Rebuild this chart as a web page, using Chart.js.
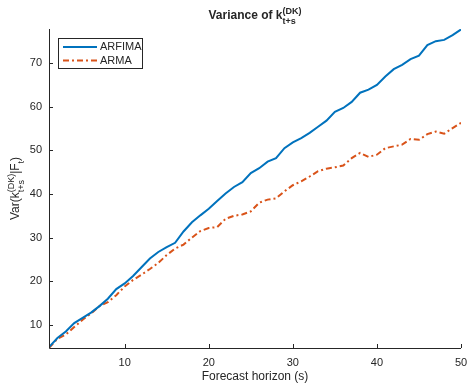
<!DOCTYPE html>
<html>
<head>
<meta charset="utf-8">
<script src="https://cdn.jsdelivr.net/npm/chart.js@4/dist/chart.umd.min.js"></script>
<style>
  html, body { margin: 0; padding: 0; background: #fff; }
  canvas { display: block; }
</style>
</head>
<body>
<canvas id="c" width="468" height="383"></canvas>
<script>
// horizon s = 1..50
const horizon = [];
for (let s = 1; s <= 50; s++) horizon.push(s);

const arfima = [4.9, 7.0, 8.5, 10.4, 11.6, 12.8, 14.3, 16.0, 18.2, 19.5,
                21.2, 23.2, 25.2, 26.7, 27.8, 28.8, 31.4, 33.5, 35.1, 36.6,
                38.4, 40.1, 41.6, 42.7, 44.8, 45.9, 47.4, 48.2, 50.5, 51.8,
                52.8, 54.0, 55.4, 56.8, 58.8, 59.7, 61.1, 63.2, 63.9, 65.0,
                66.9, 68.6, 69.6, 70.9, 71.7, 74.1, 75.0, 75.3, 76.4, 77.7];

const arma = [4.7, 6.8, 7.8, 9.5, 11.2, 12.6, 14.3, 15.2, 16.8, 18.8,
              20.3, 21.5, 22.8, 24.2, 26.0, 27.5, 28.4, 30.0, 31.5, 32.2,
              32.4, 34.3, 35.0, 35.3, 36.0, 38.0, 38.7, 39.0, 40.6, 42.0,
              42.9, 44.0, 45.2, 45.8, 46.1, 46.5, 48.2, 49.4, 48.5, 49.0,
              50.5, 50.9, 51.3, 52.6, 52.4, 53.7, 54.3, 53.8, 55.1, 56.3];

const seriesNames = ['ARFIMA', 'ARMA'];
const xTicks = [10, 20, 30, 40, 50];
const yTicks = [10, 20, 30, 40, 50, 60, 70];

const FONT = '"Liberation Sans", Arial, Helvetica, sans-serif';
const INK = '#262626';

function pts(vals) {
    return vals.map((v, i) => ({ x: horizon[i], y: v }));
}

// draws text pieces with super/subscripts, centred at (cx, cy)
function richText(ctx, parts, cx, cy, size, bold, angle) {
    const small = Math.round(size * 0.78);
    const f = (sz) => (bold ? 'bold ' : '') + sz + 'px ' + FONT;
    let total = 0;
    parts.forEach(p => {
        if (p.sup !== undefined || p.sub !== undefined) {
            ctx.font = f(small);
            p.w = Math.max(ctx.measureText(p.sup || '').width, ctx.measureText(p.sub || '').width);
        } else {
            ctx.font = f(size);
            p.w = ctx.measureText(p.t).width;
        }
        total += p.w;
    });
    ctx.save();
    ctx.translate(cx, cy);
    ctx.rotate(angle || 0);
    ctx.fillStyle = INK;
    ctx.textBaseline = 'middle';
    ctx.textAlign = 'left';
    let x = -total / 2;
    parts.forEach(p => {
        if (p.sup !== undefined || p.sub !== undefined) {
            ctx.font = f(small);
            if (p.sup) ctx.fillText(p.sup, x, -size * 0.38);
            if (p.sub) ctx.fillText(p.sub, x, size * 0.5);
        } else {
            ctx.font = f(size);
            ctx.fillText(p.t, x, 0);
        }
        x += p.w;
    });
    ctx.restore();
}

const decor = {
    id: 'decor',
    afterDraw(chart) {
        const ctx = chart.ctx;
        const a = chart.chartArea;
        const xs = chart.scales.x, ys = chart.scales.y;
        ctx.save();
        // axis lines
        ctx.strokeStyle = INK;
        ctx.lineWidth = 1;
        ctx.beginPath();
        ctx.moveTo(a.left + 0.5, a.top);
        ctx.lineTo(a.left + 0.5, a.bottom + 0.5);
        ctx.lineTo(a.right, a.bottom + 0.5);
        ctx.stroke();
        // inward ticks
        ctx.beginPath();
        xTicks.forEach(v => {
            const px = Math.round(xs.getPixelForValue(v)) + 0.5;
            ctx.moveTo(px, a.bottom);
            ctx.lineTo(px, a.bottom - 4);
        });
        yTicks.forEach(v => {
            const py = Math.round(ys.getPixelForValue(v)) + 0.5;
            ctx.moveTo(a.left, py);
            ctx.lineTo(a.left + 4, py);
        });
        ctx.stroke();

        // title and axis labels
        const cx = (a.left + a.right) / 2;
        richText(ctx, [{ t: 'Variance of k' }, { sup: '(DK)', sub: 't+s' }], cx, 16, 12, true, 0);
        ctx.fillStyle = INK;
        ctx.font = '12px ' + FONT;
        ctx.textAlign = 'center';
        ctx.textBaseline = 'middle';
        ctx.fillText('Forecast horizon (s)', cx, 377);
        richText(ctx, [{ t: 'Var(k' }, { sup: '(DK)', sub: 't+s' }, { t: '|F' }, { sub: 't' }, { t: ')' }],
                 16, (a.top + a.bottom) / 2, 12, false, -Math.PI / 2);

        // legend box
        const lx = 58, ly = 38, lw = 84, lh = 30;
        ctx.fillStyle = '#fff';
        ctx.fillRect(lx, ly, lw, lh);
        ctx.strokeStyle = INK;
        ctx.lineWidth = 1;
        ctx.strokeRect(lx + 0.5, ly + 0.5, lw, lh);
        chart.data.datasets.forEach((ds, i) => {
            const y = ly + 9 + i * 13.5;
            ctx.strokeStyle = ds.borderColor;
            ctx.lineWidth = ds.borderWidth;
            ctx.setLineDash(ds.borderDash || []);
            ctx.beginPath();
            ctx.moveTo(63, y);
            ctx.lineTo(97, y);
            ctx.stroke();
            ctx.setLineDash([]);
            ctx.fillStyle = INK;
            ctx.font = '11px ' + FONT;
            ctx.textAlign = 'left';
            ctx.fillText(ds.label, 100, y);
        });
        ctx.restore();
    }
};

new Chart(document.getElementById('c'), {
    type: 'line',
    data: {
        datasets: [{
            label: seriesNames[0],
            data: pts(arfima),
            borderColor: '#0072BD',
            borderWidth: 2,
            pointRadius: 0,
            tension: 0,
            fill: false
        }, {
            label: seriesNames[1],
            data: pts(arma),
            borderColor: '#D95319',
            borderWidth: 2,
            borderDash: [6, 3, 2, 3],
            pointRadius: 0,
            tension: 0,
            fill: false
        }]
    },
    options: {
        responsive: false,
        animation: false,
        events: [],
        layout: { padding: { top: 29, right: 7, left: 0, bottom: 0 } },
        plugins: {
            legend: { display: false },
            title: { display: false },
            tooltip: { enabled: false }
        },
        scales: {
            x: {
                type: 'linear',
                min: 1,
                max: 50,
                afterBuildTicks: (s) => { s.ticks = xTicks.map(v => ({ value: v })); },
                afterFit: (s) => { s.height = 35; s.paddingLeft = 0; s.paddingRight = 0; },
                grid: { display: false, drawTicks: false },
                border: { display: false },
                ticks: { color: INK, font: { family: FONT, size: 11 }, padding: 8, maxRotation: 0 }
            },
            y: {
                type: 'linear',
                min: 4.7,
                max: 77.8,
                afterBuildTicks: (s) => { s.ticks = yTicks.map(v => ({ value: v })); },
                afterFit: (s) => { s.width = 49; s.paddingTop = 0; s.paddingBottom = 0; },
                grid: { display: false, drawTicks: false },
                border: { display: false },
                ticks: { color: INK, font: { family: FONT, size: 11 }, padding: 7 }
            }
        }
    },
    plugins: [decor]
});
</script>
</body>
</html>
